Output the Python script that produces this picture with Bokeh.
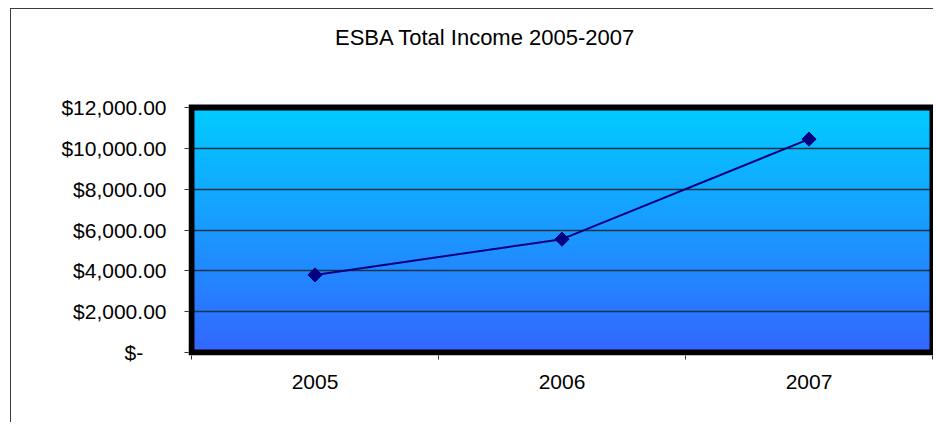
import numpy as np
from bokeh.plotting import figure
from bokeh.models import FixedTicker, Range1d
from bokeh.core.properties import value
from bokeh.embed import file_html
from bokeh.resources import INLINE

# Data
years = ["2005", "2006", "2007"]
income = [3800, 5550, 10450]
y_ticks = [0, 2000, 4000, 6000, 8000, 10000, 12000]
y_tick_labels = ["$-\u00a0\u00a0\u00a0\u00a0", "$2,000.00", "$4,000.00", "$6,000.00",
                 "$8,000.00", "$10,000.00", "$12,000.00"]
title_text = "ESBA Total Income 2005-2007"

x = list(range(len(years)))
FONT = "Liberation Sans"

# Geometry of the plot area (pixels) and the matching data ranges
y_max = 12000
area_h = 245          # height of the 0..12,000 band
pad = 3               # half the heavy border width, kept inside the frame
above = 98            # space above the band for the title
u_per_px_y = y_max / area_h
x_lo, x_hi = -0.5, len(years) - 0.5
area_w = 744
u_per_px_x = (x_hi - x_lo) / area_w

p = figure(width=924, height=414, output_backend="svg", toolbar_location=None,
           x_range=Range1d(x_lo - pad * u_per_px_x, x_hi + pad * u_per_px_x),
           y_range=Range1d(-pad * u_per_px_y, y_max + above * u_per_px_y),
           min_border_left=177, min_border_right=0, min_border_top=0,
           min_border_bottom=68)
p.styles = {"position": "absolute", "left": "10px", "top": "8px",
            "border-left": "1px solid #3c3c3c", "border-top": "1px solid #3c3c3c",
            "clip-path": "inset(0 1px 0 0)"}
p.outline_line_color = None
p.background_fill_color = "white"
p.border_fill_color = "white"

# Plot-area vertical gradient (bottom -> top)
n = 256
t = np.linspace(0.0, 1.0, n)[:, None]
c_bottom = np.array([51, 102, 255])
c_top = np.array([0, 204, 255])
rgb = (c_bottom * (1 - t) + c_top * t).round().astype(np.uint8)
img = np.empty((n, 1), dtype=np.uint32)
view = img.view(dtype=np.uint8).reshape((n, 1, 4))
view[:, 0, 0] = rgb[:, 0]
view[:, 0, 1] = rgb[:, 1]
view[:, 0, 2] = rgb[:, 2]
view[:, 0, 3] = 255
p.image_rgba(image=[img], x=x_lo, y=0, dw=x_hi - x_lo, dh=y_max, level="image")

# Grid
p.xgrid.visible = False
p.ygrid.ticker = FixedTicker(ticks=y_ticks)
p.ygrid.grid_line_color = "#17334a"
p.ygrid.grid_line_width = 1.3

# Heavy black plot-area border
p.quad(left=x_lo, right=x_hi, bottom=0, top=y_max, fill_color=None,
       line_color="black", line_width=6, line_join="miter")

# Title
p.text(x=[0.69], y=[y_max + 70 * u_per_px_y], text=[title_text],
       text_font=value(FONT), text_font_size="22px", text_color="black",
       text_align="center", text_baseline="middle")

# Y axis
p.yaxis.ticker = FixedTicker(ticks=y_ticks)
p.yaxis.major_label_overrides = {v: s for v, s in zip(y_ticks, y_tick_labels)}
p.yaxis.major_tick_in = 0
p.yaxis.major_tick_out = 4
p.yaxis.minor_tick_line_color = None
p.yaxis.major_tick_line_color = "#333333"
p.yaxis.axis_line_color = None
p.yaxis.major_label_standoff = 18
p.yaxis.major_label_text_font = FONT
p.yaxis.major_label_text_font_size = "21px"
p.yaxis.major_label_text_color = "black"

# X axis: labels at category centres, ticks on category boundaries
bounds = [i - 0.5 for i in range(len(years) + 1)]
p.xaxis.ticker = FixedTicker(ticks=x, minor_ticks=bounds)
p.xaxis.major_label_overrides = {i: s for i, s in zip(x, years)}
p.xaxis.major_tick_in = 0
p.xaxis.major_tick_out = 0
p.xaxis.minor_tick_in = 0
p.xaxis.minor_tick_out = 4
p.xaxis.minor_tick_line_color = "#333333"
p.xaxis.axis_line_color = None
p.xaxis.major_label_standoff = 15
p.xaxis.major_label_text_font = FONT
p.xaxis.major_label_text_font_size = "21px"
p.xaxis.major_label_text_color = "black"

# Series
p.line(x, income, line_color="#000080", line_width=2)
p.scatter(x, income, marker="square", angle=np.pi / 4, size=10,
          fill_color="#000080", line_color="#000080")

open("out.html", "w").write(file_html(p, INLINE))
